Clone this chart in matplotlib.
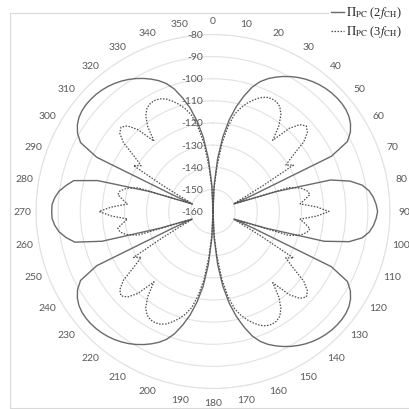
import matplotlib.pyplot as plt
import numpy as np
from matplotlib.lines import Line2D

# angle of each sample (degrees, clockwise from north)
angles = np.arange(0, 360, 2.5)

# Pi_PC at 2 f_CH (dB), solid
pc_2f = [
    -160, -148, -136, -126, -118, -111.5, -106, -101, -97.5, -95, -93, -91.2,
    -89.6, -88.2, -87, -86, -85.2, -84.6, -84.2, -84, -84, -84.3, -85, -86.3,
    -88.3, -91.5, -101, -140, -150, -130, -105, -96.5, -91.5, -88.8, -87.2, -86.2,
    -85.6, -86.2, -87.2, -88.8, -91.5, -97, -108, -135, -150, -140, -101, -91.5,
    -88.3, -86.3, -85, -84.3, -84, -84, -84.2, -84.6, -85.2, -86, -87, -88.2,
    -89.6, -91.2, -93, -95, -97.5, -101, -106, -111.5, -118, -126, -136, -148,
    -160, -148, -136, -126, -118.5, -112, -106.8, -102, -98.5, -96, -94, -92.2,
    -90.6, -89.2, -88, -87, -86.2, -85.6, -85.2, -85, -85, -85.3, -86, -87.3,
    -89.3, -92.5, -102, -140, -150, -135, -108, -96, -92.5, -89.8, -88.2, -87.2,
    -87.1, -87.2, -88.2, -89.8, -92.5, -95.5, -106, -130, -150, -140, -102, -92.5,
    -89.3, -87.3, -86, -85.3, -85, -85, -85.2, -85.6, -86.2, -87, -88, -89.2,
    -90.6, -92.2, -94, -96, -98.5, -102, -106.8, -112, -118.5, -126, -136, -148,
]

# Pi_PC at 3 f_CH (dB), dotted
pc_3f = [
    -160, -150, -140, -129, -121, -115, -111.5, -108.7, -106.3, -104.3, -103, -102.5,
    -102.7, -103.8, -106.5, -111, -118, -109, -104.5, -102.8, -104.3, -108.3, -116, -121,
    -118, -134, -143, -148, -150, -124, -119, -116.5, -115.5, -118, -120.5, -113,
    -107.6, -113, -120.5, -118, -115.5, -116.5, -119, -124, -150, -148, -143, -134,
    -118, -121, -116, -108.3, -104.3, -102.8, -104.5, -109, -118, -111, -106.5, -103.8,
    -102.7, -102.5, -103, -104.3, -106.3, -108.7, -111.5, -115, -121, -129, -140, -150,
    -160, -150, -140, -129, -121.5, -115.5, -112, -109.3, -107, -105, -103.8, -103.3,
    -103.5, -104.5, -107, -111.5, -118.5, -109.8, -105.3, -103.6, -105, -109, -116.5, -121.5,
    -118.5, -134, -143, -148, -150, -124.5, -119.5, -117, -116.3, -118.8, -121.2, -114,
    -108.5, -114, -121.2, -118.8, -116.3, -117, -119.5, -124.5, -150, -148, -143, -134,
    -118.5, -121.5, -116.5, -109, -105, -103.6, -105.3, -109.8, -118.5, -111.5, -107, -104.5,
    -103.5, -103.3, -103.8, -105, -107, -109.3, -112, -115.5, -121.5, -129, -140, -150,
]

r_ticks = [-80, -90, -100, -110, -120, -130, -140, -150, -160]
angle_ticks = list(range(0, 360, 10))
legend_labels = [r'$\Pi_{\mathrm{PC}}$ (2$f_{\mathrm{CH}}$)',
                 r'$\Pi_{\mathrm{PC}}$ (3$f_{\mathrm{CH}}$)']

plt.rcParams['font.family'] = 'Lato'
plt.rcParams['mathtext.fontset'] = 'stix'

W, H = 409, 410
fig = plt.figure(figsize=(W / 100, H / 100), dpi=100)


def fx(x):
  return x / W


def fy(y):
  return 1 - y / H


# chart frame (light grey, right side falls off the picture)
frame = dict(color='#d9d9d9', lw=0.8, transform=fig.transFigure)
fig.add_artist(Line2D([fx(10), fx(328)], [fy(14), fy(14)], **frame))
fig.add_artist(Line2D([fx(10), fx(10)], [fy(14), fy(409)], **frame))
fig.add_artist(Line2D([fx(10), fx(409)], [fy(409), fy(409)], **frame))

ax = fig.add_axes([fx(36), fy(389.5), 354 / W, 354 / H], projection='polar')
ax.set_theta_zero_location('N')
ax.set_theta_direction(-1)
ax.set_ylim(-160, -80)
ax.set_yticks(r_ticks[:-1])
ax.set_yticklabels([])
ax.set_xticks([])
ax.yaxis.grid(True, color='#e2e2e2', lw=0.8)
ax.spines['polar'].set_color('#e2e2e2')
ax.spines['polar'].set_linewidth(0.8)
ax.patch.set_alpha(0)

th = np.deg2rad(np.append(angles, angles[0]))
ax.plot(th, np.append(pc_2f, pc_2f[0]), color='#6a6a6a', lw=1.0)
ax.plot(th, np.append(pc_3f, pc_3f[0]), color='#4d4d4d', lw=0.9,
        ls=(0, (1.2, 1.2)))

for v in r_ticks:
  ax.annotate(str(v), xy=(0, v), xytext=(-10, 0), textcoords='offset pixels',
              ha='right', va='center', fontsize=7.5, color='#595959',
              annotation_clip=False)

for a in angle_ticks:
  ax.text(np.deg2rad(a), -80 + 14 / 2.21, str(a), ha='center', va='center',
          fontsize=7.5, color='#595959', clip_on=False)

# legend, drawn by hand at the top right
styles = [dict(color='#6a6a6a', lw=1.0), dict(color='#4d4d4d', lw=0.9, ls=(0, (1.2, 1.2)))]
for yy, lab, st in zip([13, 32], legend_labels, styles):
  fig.add_artist(Line2D([fx(331), fx(344)], [fy(yy), fy(yy)],
                        transform=fig.transFigure, **st))
  fig.text(fx(346), fy(yy), lab, ha='left', va='center', fontsize=9,
           family='Liberation Serif', color='#262626')

fig.savefig('out.png', dpi=100)
